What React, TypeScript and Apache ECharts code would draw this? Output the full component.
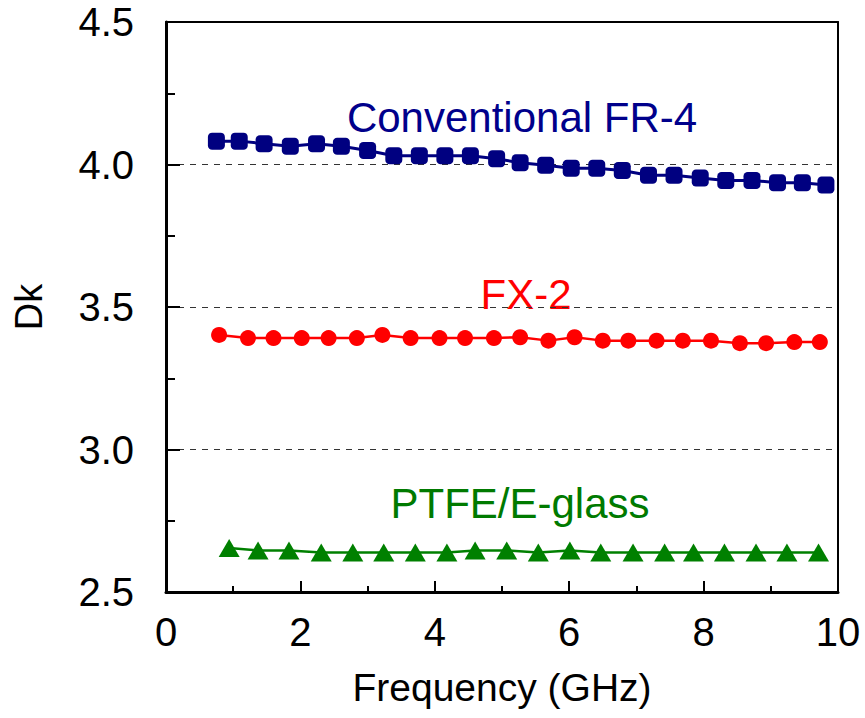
import React, { useEffect, useRef } from "react";
import * as echarts from "echarts";

const fr4Freq = [0.75, 1.09, 1.46, 1.85, 2.24, 2.61, 3.0, 3.39, 3.77, 4.15, 4.53, 4.92, 5.27, 5.65, 6.03, 6.41, 6.79, 7.18, 7.56, 7.95, 8.33, 8.72, 9.1, 9.47, 9.82];
const fr4Dk = [4.082, 4.082, 4.073, 4.064, 4.073, 4.064, 4.049, 4.031, 4.031, 4.031, 4.031, 4.02, 4.006, 3.997, 3.987, 3.987, 3.979, 3.962, 3.962, 3.953, 3.944, 3.944, 3.936, 3.936, 3.928];

const fx2Freq = [0.79, 1.22, 1.6, 2.02, 2.42, 2.84, 3.22, 3.64, 4.07, 4.45, 4.88, 5.27, 5.69, 6.08, 6.5, 6.88, 7.3, 7.69, 8.11, 8.54, 8.93, 9.35, 9.73];
const fx2Dk = [3.402, 3.391, 3.391, 3.391, 3.391, 3.391, 3.402, 3.391, 3.391, 3.391, 3.391, 3.394, 3.382, 3.394, 3.382, 3.382, 3.382, 3.382, 3.382, 3.373, 3.373, 3.377, 3.377];

const ptfeFreq = [0.94, 1.37, 1.83, 2.31, 2.78, 3.24, 3.71, 4.18, 4.6, 5.07, 5.54, 6.01, 6.47, 6.95, 7.42, 7.85, 8.31, 8.78, 9.24, 9.71];
const ptfeDk = [2.654, 2.646, 2.646, 2.639, 2.639, 2.639, 2.639, 2.639, 2.646, 2.646, 2.639, 2.646, 2.639, 2.639, 2.639, 2.639, 2.639, 2.639, 2.639, 2.639];

const seriesNames = ["Conventional FR-4", "FX-2", "PTFE/E-glass"];
const xTitle = "Frequency (GHz)";
const yTitle = "Dk";

const FONT = "'Liberation Sans', Arial, Helvetica, sans-serif";

const zip = (xs: number[], ys: number[]) => xs.map((x, i) => [x, ys[i]]);

export default function App() {
  const ref = useRef<HTMLDivElement>(null);
  useEffect(() => {
    if (!ref.current) return;
    const chart = echarts.init(ref.current, undefined, { renderer: "svg" });
    const option: any = {
      animation: false,
      backgroundColor: "#ffffff",
      grid: { left: 166, right: 27, top: 22, bottom: 126, containLabel: false },
      xAxis: [
        {
          type: "value",
          min: 0,
          max: 10,
          interval: 2,
          position: "bottom",
          name: xTitle,
          nameLocation: "middle",
          nameGap: 76,
          nameTextStyle: { fontFamily: FONT, fontSize: 39, color: "#000" },
          axisLine: { show: true, onZero: false, lineStyle: { color: "#000", width: 3 } },
          axisTick: { show: true, inside: true, length: 11, lineStyle: { color: "#000", width: 2 } },
          minorTick: { show: true, splitNumber: 2, length: 6, lineStyle: { color: "#000", width: 2 } },
          axisLabel: { fontFamily: FONT, fontSize: 40, color: "#000", margin: 20 },
          splitLine: { show: false },
        },
        {
          type: "value",
          min: 0,
          max: 10,
          position: "top",
          axisLine: { show: true, onZero: false, lineStyle: { color: "#000", width: 2 } },
          axisTick: { show: false },
          axisLabel: { show: false },
          splitLine: { show: false },
        },
      ],
      yAxis: [
        {
          type: "value",
          min: 2.5,
          max: 4.5,
          interval: 0.5,
          position: "left",
          name: yTitle,
          nameLocation: "middle",
          nameGap: 118,
          nameRotate: 90,
          nameTextStyle: { fontFamily: FONT, fontSize: 38, color: "#000" },
          axisLine: { show: true, onZero: false, lineStyle: { color: "#000", width: 3 } },
          axisTick: { show: true, inside: true, length: 14, lineStyle: { color: "#000", width: 2 } },
          minorTick: { show: true, splitNumber: 2, length: 9, lineStyle: { color: "#000", width: 2 } },
          axisLabel: {
            fontFamily: FONT,
            fontSize: 40,
            color: "#000",
            margin: 32,
            formatter: (v: number) => v.toFixed(1),
          },
          splitLine: { show: true, lineStyle: { color: "#333", width: 1, type: [6, 6] } },
        },
        {
          type: "value",
          min: 2.5,
          max: 4.5,
          position: "right",
          axisLine: { show: true, onZero: false, lineStyle: { color: "#000", width: 2 } },
          axisTick: { show: false },
          axisLabel: { show: false },
          splitLine: { show: false },
        },
      ],
      series: [
        {
          name: seriesNames[0],
          type: "line",
          data: zip(fr4Freq, fr4Dk),
          symbol: "roundRect",
          symbolSize: 17,
          itemStyle: { color: "#000080" },
          lineStyle: { color: "#000080", width: 3 },
        },
        {
          name: seriesNames[1],
          type: "line",
          data: zip(fx2Freq, fx2Dk),
          symbol: "circle",
          symbolSize: 16,
          itemStyle: { color: "#ff0000" },
          lineStyle: { color: "#ff0000", width: 2.5 },
        },
        {
          name: seriesNames[2],
          type: "line",
          data: zip(ptfeFreq, ptfeDk),
          symbol: "triangle",
          symbolSize: [21, 18],
          itemStyle: { color: "#008000" },
          lineStyle: { color: "#008000", width: 2.5 },
        },
      ],
      graphic: [
        {
          type: "text",
          x: 522,
          y: 117,
          style: {
            text: seriesNames[0],
            fontFamily: FONT,
            fontSize: 42,
            fill: "#00008b",
            align: "center",
            verticalAlign: "middle",
          },
        },
        {
          type: "text",
          x: 526,
          y: 294,
          style: {
            text: seriesNames[1],
            fontFamily: FONT,
            fontSize: 42,
            fill: "#ff0000",
            align: "center",
            verticalAlign: "middle",
          },
        },
        {
          type: "text",
          x: 520,
          y: 503,
          style: {
            text: seriesNames[2],
            fontFamily: FONT,
            fontSize: 42,
            fill: "#007a00",
            align: "center",
            verticalAlign: "middle",
          },
        },
      ],
    };
    chart.setOption(option);
    return () => chart.dispose();
  }, []);
  return (
    <div
      ref={ref}
      style={{ position: "fixed", left: 0, top: 0, width: 865, height: 718, background: "#fff" }}
    />
  );
}
